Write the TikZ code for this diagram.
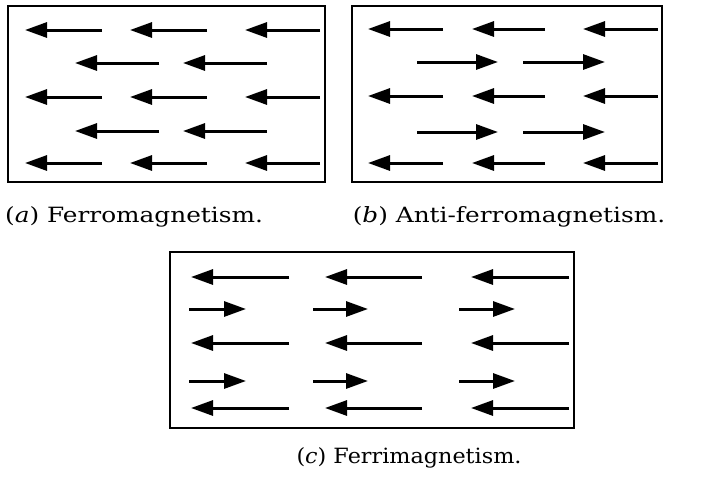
\documentclass[tikz,border=0pt]{standalone}
\usepackage{fontspec}
\setmainfont{DejaVu Serif}
\usetikzlibrary{arrows.meta}
\tikzset{spin/.style={line width=3pt,-{Triangle[length=22pt,width=15pt]}},
  frame/.style={line width=1.5pt},
  caption/.style={font=\fontsize{21}{24}\selectfont,anchor=base,inner sep=0pt,
    xscale=1.18,transform shape}}

\begin{document}
\begin{tikzpicture}[x=1pt,y=-1pt]
  \useasboundingbox (0,0) rectangle (718,477);
  % (a) ferro
  \draw[frame] (8,6) rectangle (325,182);
  \foreach \y in {30,97,163}
    \foreach \a/\b in {25/102,130/207,245/320} \draw[spin] (\b,\y) -- (\a,\y);
  \foreach \y in {63,131}
    \foreach \a/\b in {75/159,183/267} \draw[spin] (\b,\y) -- (\a,\y);
  \node[caption] (capa) at (134,222) {(\textit{a}) Ferromagnetism.};
  % (b) anti-ferro
  \draw[frame] (352,6) rectangle (662,182);
  \foreach \y in {29,96,163}
    \foreach \a/\b in {368/443,472/545,583/658} \draw[spin] (\b,\y) -- (\a,\y);
  \foreach \y in {62,132}
    \foreach \a/\b in {417/498,523/605} \draw[spin] (\a,\y) -- (\b,\y);
  \node[caption] (capb) at (509,222) {(\textit{b}) Anti-ferromagnetism.};
  % (c) ferri
  \draw[frame] (170,252) rectangle (574,428);
  \foreach \y in {277,343,408}
    \foreach \a/\b in {191/289,325/422,471/569} \draw[spin] (\b,\y) -- (\a,\y);
  \foreach \y in {309,381}
    \foreach \a/\b in {189/246,313/368,459/515} \draw[spin] (\a,\y) -- (\b,\y);
  \node[caption,xscale=0.9] (capc) at (409,463) {(\textit{c}) Ferrimagnetism.};
\end{tikzpicture}
\end{document}
